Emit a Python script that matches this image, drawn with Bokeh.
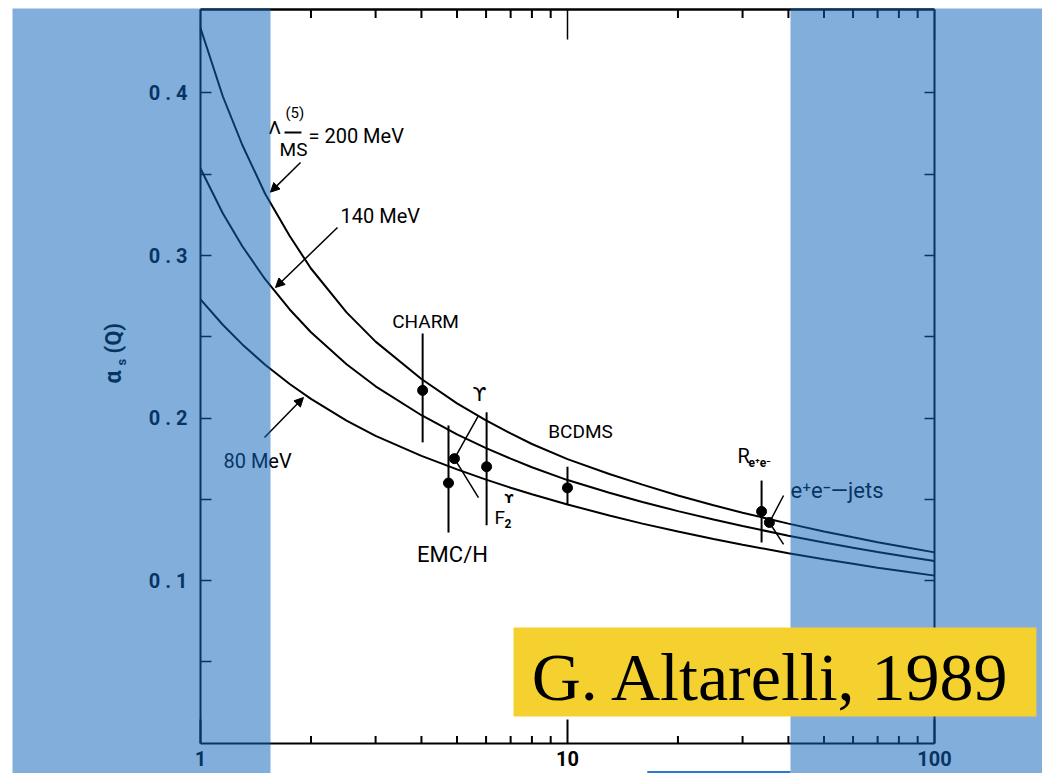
from bokeh.plotting import figure
from bokeh.models import (LinearAxis, FixedTicker, CustomJSTickFormatter,
                          BoxAnnotation, Label, Arrow, NormalHead, Range1d)
from bokeh.embed import file_html
from bokeh.resources import INLINE

# Running coupling alpha_s(Q) for three values of Lambda_MS-bar^(5)
q_grid = [1, 1.15, 1.3, 1.5, 1.75, 2, 2.5, 3, 4, 5, 6, 7, 8, 10,
          13, 16, 20, 25, 30, 40, 50, 60, 70, 85, 100]
alpha_lambda_200 = [0.440, 0.398, 0.368, 0.338, 0.312, 0.292, 0.265, 0.247, 0.224,
                    0.209, 0.1985, 0.1905, 0.184, 0.1747, 0.1655, 0.159, 0.1523,
                    0.1463, 0.1417, 0.135, 0.1302, 0.1266, 0.1236, 0.1201, 0.1173]
alpha_lambda_140 = [0.3535, 0.326, 0.3057, 0.2854, 0.2668, 0.2528, 0.2331, 0.2195,
                    0.2017, 0.1899, 0.1815, 0.175, 0.1697, 0.1618, 0.154, 0.1483,
                    0.1427, 0.1375, 0.1335, 0.1276, 0.1234, 0.1202, 0.1176, 0.1145, 0.112]
alpha_lambda_80 = [0.273, 0.2574, 0.2453, 0.2328, 0.2209, 0.2118, 0.1984, 0.189,
                   0.1767, 0.1684, 0.1621, 0.1571, 0.1531, 0.1468, 0.14, 0.135,
                   0.1301, 0.1255, 0.122, 0.1168, 0.1131, 0.1103, 0.1079, 0.1052, 0.103]

# Measurements: CHARM, EMC/H, Upsilon, F2, BCDMS, R_e+e-, e+e- -> jets
exp_names = ["CHARM", "EMC/H", "Upsilon", "F2", "BCDMS", "R_ee", "ee_jets"]
exp_q = [4.03, 4.74, 4.92, 6.02, 10.0, 33.8, 35.5]
exp_alpha = [0.217, 0.160, 0.175, 0.170, 0.157, 0.1425, 0.1357]
exp_err_lo = [0.185, 0.1295, None, 0.134, 0.1468, 0.1234, None]
exp_err_hi = [0.252, 0.1954, None, 0.2035, 0.170, 0.1615, None]

# Slanted pointer strokes through the Upsilon and jets points
pointer_q = [[5.72, 4.92, 5.72], [38.8, 35.5, 38.8]]
pointer_alpha = [[0.2015, 0.175, 0.151], [0.1523, 0.1357, 0.1222]]

# axis extent and ticks
q_min, q_max = 1, 100
alpha_min, alpha_max = 0.0, 0.4511
x_decades = [1, 10, 100]
x_minor = [2, 3, 4, 5, 6, 7, 8, 9, 20, 30, 40, 50, 60, 70, 80, 90]
y_ticks = [0.05, 0.1, 0.15, 0.2, 0.25, 0.3, 0.35, 0.4]

FONT = "Roboto"
PX_PER_UNIT = 1625.0   # vertical pixels per unit of alpha_s

p = figure(width=1042, height=773, x_axis_type="log", title=None,
           x_range=Range1d(0.2851, 196.98), y_range=Range1d(-0.018769, 0.456923),
           output_backend="svg", toolbar_location=None,
           min_border_left=0, min_border_right=0, min_border_top=0, min_border_bottom=0)
p.background_fill_color = "white"
p.border_fill_color = "white"
p.outline_line_color = None
p.grid.visible = False

blank = CustomJSTickFormatter(code="return '';")

# bottom axis with decade labels
xa = p.xaxis[0]
xa.fixed_location = alpha_min
xa.bounds = (q_min, q_max)
xa.ticker = FixedTicker(ticks=x_decades, minor_ticks=[])
xa.formatter = CustomJSTickFormatter(code="return String(Math.round(tick));")
xa.major_tick_in = 24
xa.major_tick_out = 0
xa.minor_tick_line_color = None
xa.axis_line_width = 2
xa.major_tick_line_width = 2
xa.major_label_text_font = FONT
xa.major_label_text_font_style = "bold"
xa.major_label_text_font_size = "20px"
xa.major_label_text_color = "black"
xa.major_label_standoff = 8

# left axis
ya = p.yaxis[0]
ya.fixed_location = q_min
ya.bounds = (alpha_min, alpha_max)
ya.ticker = FixedTicker(ticks=y_ticks, minor_ticks=[])
ya.formatter = CustomJSTickFormatter(
    code="return (Math.round(tick*100) % 10 == 0) ? tick.toFixed(1).split('').join(' ') : '';")
ya.major_tick_in = 11
ya.major_tick_out = 0
ya.minor_tick_line_color = None
ya.axis_line_width = 2
ya.major_tick_line_width = 1.5
ya.major_label_text_font = FONT
ya.major_label_text_font_style = "bold"
ya.major_label_text_font_size = "20px"
ya.major_label_text_color = "black"
ya.major_label_standoff = 13

# top axis (decades) and right axis, unlabelled
top_axis = p.xaxis[0].__class__(ticker=FixedTicker(ticks=x_decades, minor_ticks=[]),
                                fixed_location=alpha_max, bounds=(q_min, q_max),
                                formatter=blank, major_label_text_font_size="0px",
                                major_label_standoff=0, major_tick_in=30, major_tick_out=0,
                                minor_tick_line_color=None, axis_line_width=2.5,
                                major_tick_line_width=1.5)
p.add_layout(top_axis, "above")

right_axis = LinearAxis(ticker=FixedTicker(ticks=y_ticks, minor_ticks=[]),
                        fixed_location=q_max, bounds=(alpha_min, alpha_max),
                        formatter=blank, major_label_text_font_size="0px",
                        major_label_standoff=0, major_tick_in=10, major_tick_out=0,
                        minor_tick_line_color=None, axis_line_width=2,
                        major_tick_line_width=1.5)
p.add_layout(right_axis, "right")

# short log-spaced tick marks along the bottom and top edges
bottom_tick_len = 7 / PX_PER_UNIT
top_tick_len = 8 / PX_PER_UNIT
p.segment(x0=x_minor, y0=[alpha_min] * len(x_minor), x1=x_minor,
          y1=[alpha_min + bottom_tick_len] * len(x_minor), line_color="black", line_width=2)
p.segment(x0=x_minor, y0=[alpha_max] * len(x_minor), x1=x_minor,
          y1=[alpha_max - top_tick_len] * len(x_minor), line_color="black", line_width=2)

# curves
for series in (alpha_lambda_200, alpha_lambda_140, alpha_lambda_80):
    p.line(q_grid, series, line_color="black", line_width=2)

# error bars and points
bar_q = [q for q, lo in zip(exp_q, exp_err_lo) if lo is not None]
bar_lo = [lo for lo in exp_err_lo if lo is not None]
bar_hi = [hi for hi in exp_err_hi if hi is not None]
p.segment(x0=bar_q, y0=bar_lo, x1=bar_q, y1=bar_hi, line_color="black", line_width=2)
p.scatter(exp_q, exp_alpha, size=10, marker="circle", fill_color="black", line_color="black")
p.multi_line(pointer_q, pointer_alpha, line_color="black", line_width=1.5)

# arrows pointing at the curves
arrow_tail_q = [1.873, 2.362, 1.494]
arrow_tail_alpha = [0.3572, 0.3172, 0.188]
arrow_head_q = [1.551, 1.601, 1.908]
arrow_head_alpha = [0.339, 0.2803, 0.2126]
for xs, ys, xe, ye in zip(arrow_tail_q, arrow_tail_alpha, arrow_head_q, arrow_head_alpha):
    p.add_layout(Arrow(end=NormalHead(size=9, fill_color="black", line_color="black"),
                       x_start=xs, y_start=ys, x_end=xe, y_end=ye,
                       line_color="black", line_width=1.5))


def text(x, y, s, size=19, align="left", style="normal", font=FONT, angle=0.0,
         level="annotation", baseline="alphabetic", lift=0.34):
    # lift the anchor so that the glyph baseline sits at y
    lab = Label(x=x, y=y + lift * size / PX_PER_UNIT, text=s, text_font=font,
                text_font_size=f"{size}px", text_font_style=style, text_color="black",
                text_align=align, text_baseline=baseline, angle=angle, level=level)
    p.add_layout(lab)
    return lab


# Lambda_MS-bar^(5) = 200 MeV
text(1.532, 0.3751, "Λ", size=19)
text(1.704, 0.3843, "(5)", size=15)
p.segment(x0=[1.694], y0=[0.3757], x1=[1.884], y1=[0.3757], line_color="black", line_width=2)
text(1.642, 0.3615, "MS", size=19)
text(1.969, 0.3695, "= 200 MeV", size=20)
text(2.407, 0.3203, "140 MeV", size=20)
text(1.155, 0.1695, "80 MeV", size=20)

# experiment labels
text(4.104, 0.2557, "CHARM", align="center")
text(5.757, 0.2108, "ϒ", align="center", size=20, font="DejaVu Sans")
text(10.85, 0.188, "BCDMS", align="center")
text(4.861, 0.1111, "EMC/H", align="center", size=22)
text(6.325, 0.1351, "F", size=19)
text(6.734, 0.1326, "2", size=12, style="bold")
text(6.734, 0.1474, "ϒ", size=12, style="bold", font="DejaVu Sans")
text(29.05, 0.1726, "R", size=20)
text(31.13, 0.1695, "e⁺e⁻", size=12, style="bold")
text(40.52, 0.1505, "e⁺e⁻—jets", size=22)

# y axis title, written bottom to top
text(0.5776, 0.2212, "α", size=23, style="bold", angle=1.5708, lift=0.0)
text(0.6076, 0.2323, "s", size=13, style="bold", angle=1.5708, lift=0.0)
text(0.5776, 0.2397, "(Q)", size=22, style="bold", angle=1.5708, lift=0.0)

# translucent blue bands over the low- and high-Q ends
BAND = dict(fill_color=(15, 100, 188), fill_alpha=0.52, line_color=None, level="overlay")
p.add_layout(BoxAnnotation(left=0.3074, right=1.5515, bottom=-0.019, top=0.452, **BAND))
p.add_layout(BoxAnnotation(left=40.52, right=210, bottom=-0.019, top=0.452, **BAND))
p.add_layout(BoxAnnotation(left=16.5, right=40.52, bottom=-0.0195, top=-0.0172,
                           fill_color="#2f78cf", fill_alpha=1, line_color=None, level="overlay"))

# credit box
p.add_layout(BoxAnnotation(left=7.127, right=189.6, bottom=0.01631, top=0.07108,
                           fill_color="#F5D130", fill_alpha=1, line_color=None, level="overlay"))
text(35.97, 0.02615, "G. Altarelli, 1989", size=68, align="center",
     font="Liberation Serif", level="overlay")

open("out.html", "w").write(file_html(p, INLINE))
